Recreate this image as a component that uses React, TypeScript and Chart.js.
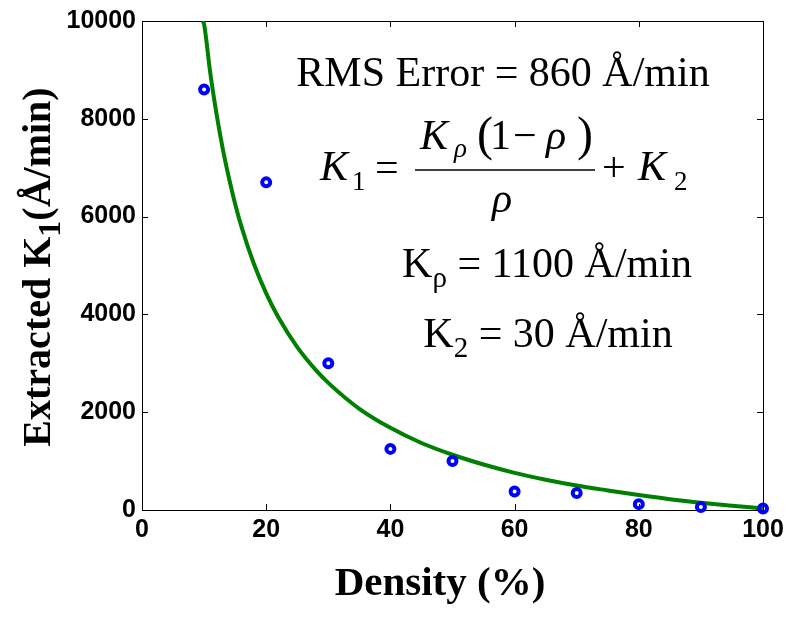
import React, { useEffect, useRef } from "react";
import { Chart, registerables } from "chart.js";
Chart.register(...registerables);

// Measured points
const densityPct = [10, 20, 30, 40, 50, 60, 70, 80, 90, 100];
const extractedK1 = [8600, 6700, 3000, 1250, 1000, 380, 350, 120, 60, 30];

// Fitted curve
const fitDensity = [9.8, 10, 11, 12, 13, 14, 15, 16, 18, 20, 22, 25, 28, 30, 35, 40, 45, 50, 55, 60, 65, 70, 75, 80, 85, 90, 95, 100];
const fitK1 = [10000, 9930, 8930, 8100, 7390, 6790, 6260, 5800, 5040, 4430, 3930, 3330, 2860, 2600, 2070, 1680, 1370, 1130, 930, 760, 620, 500, 400, 305, 220, 150, 88, 30];

// Tick labels
const xTicks = [0, 20, 40, 60, 80, 100];
const yTicks = [0, 2000, 4000, 6000, 8000, 10000];

const SERIF = "'Liberation Serif', 'Times New Roman', serif";
const SANS = "'Liberation Sans', Arial, sans-serif";

type Run = { t: string; font: string; dy?: number };

function drawRuns(ctx: CanvasRenderingContext2D, runs: Run[], cx: number, baseline: number) {
  let total = 0;
  for (const r of runs) {
    ctx.font = r.font;
    total += ctx.measureText(r.t).width;
  }
  let x = cx - total / 2;
  for (const r of runs) {
    ctx.font = r.font;
    ctx.fillText(r.t, x, baseline + (r.dy || 0));
    x += ctx.measureText(r.t).width;
  }
}

const framePlugin = {
  id: "frame",
  beforeDatasetsDraw(chart: any) {
    const { ctx, chartArea: a, scales } = chart;
    ctx.save();
    ctx.strokeStyle = "#000";
    ctx.lineWidth = 1;
    ctx.strokeRect(a.left + 0.5, a.top + 0.5, a.right - a.left, a.bottom - a.top);
    const tl = 6;
    ctx.beginPath();
    for (const v of xTicks) {
      const px = Math.round(scales.x.getPixelForValue(v)) + 0.5;
      ctx.moveTo(px, a.bottom);
      ctx.lineTo(px, a.bottom - tl);
      ctx.moveTo(px, a.top);
      ctx.lineTo(px, a.top + tl);
    }
    for (const v of yTicks) {
      const py = Math.round(scales.y.getPixelForValue(v)) + 0.5;
      ctx.moveTo(a.left, py);
      ctx.lineTo(a.left + tl, py);
      ctx.moveTo(a.right, py);
      ctx.lineTo(a.right - tl, py);
    }
    ctx.stroke();
    ctx.restore();
  },
  afterDraw(chart: any) {
    const ctx: CanvasRenderingContext2D = chart.ctx;
    ctx.save();
    ctx.fillStyle = "#000";
    ctx.textBaseline = "alphabetic";
    ctx.textAlign = "left";

    // Axis titles
    drawRuns(ctx, [{ t: "Density (%)", font: `bold 41px ${SERIF}` }], 440, 595);
    ctx.save();
    ctx.translate(50, 267);
    ctx.rotate(-Math.PI / 2);
    drawRuns(
      ctx,
      [
        { t: "Extracted K", font: `bold 40px ${SERIF}` },
        { t: "1", font: `bold 32px ${SERIF}`, dy: 10 },
        { t: "(Å/min)", font: `bold 40px ${SERIF}` },
      ],
      0,
      0
    );
    ctx.restore();

    // Annotations
    const reg = `42px ${SERIF}`;
    const ital = `italic 42px ${SERIF}`;
    const sub = `27px ${SERIF}`;
    drawRuns(ctx, [{ t: "RMS Error = 860 Å/min", font: reg }], 503, 86);
    drawRuns(
      ctx,
      [
        { t: "K", font: reg },
        { t: "ρ", font: `29px ${SERIF}`, dy: 10 },
        { t: " = 1100 Å/min", font: reg },
      ],
      547,
      277
    );
    drawRuns(
      ctx,
      [
        { t: "K", font: reg },
        { t: "2", font: `29px ${SERIF}`, dy: 10 },
        { t: " = 30 Å/min", font: reg },
      ],
      548,
      347
    );

    // Equation K1 = Kρ(1 − ρ)/ρ + K2
    const put = (t: string, font: string, x: number, y: number) => {
      ctx.font = font;
      ctx.fillText(t, x, y);
    };
    put("K", ital, 320, 180);
    put("1", sub, 352, 190);
    put("=", reg, 375, 181);
    ctx.beginPath();
    ctx.lineWidth = 1.5;
    ctx.strokeStyle = "#000";
    ctx.moveTo(415, 170);
    ctx.lineTo(595, 170);
    ctx.stroke();
    put("K", ital, 420, 149);
    put("ρ", `italic 27px ${SERIF}`, 454, 157);
    put("(", `48px ${SERIF}`, 477, 150);
    put("1", reg, 490, 149);
    put("−", reg, 513, 149);
    put("ρ", ital, 546, 149);
    put(")", `48px ${SERIF}`, 577, 150);
    put("ρ", ital, 492, 212);
    put("+", reg, 602, 181);
    put("K", ital, 638, 180);
    put("2", sub, 674, 190);

    ctx.restore();
  },
};

export default function App() {
  const ref = useRef<HTMLCanvasElement | null>(null);
  useEffect(() => {
    if (!ref.current) return;
    const tickFont = { family: SANS, weight: "bold" as const, size: 25 };
    const chart = new Chart(ref.current, {
      type: "scatter",
      data: {
        datasets: [
          {
            type: "line",
            label: "Fit",
            data: fitDensity.map((x, i) => ({ x, y: fitK1[i] })),
            borderColor: "#008000",
            borderWidth: 4,
            pointRadius: 0,
            fill: false,
            cubicInterpolationMode: "monotone",
            order: 2,
          } as any,
          {
            type: "scatter",
            label: "Extracted",
            data: densityPct.map((x, i) => ({ x, y: extractedK1[i] })),
            borderColor: "#0000ff",
            backgroundColor: "rgba(0,0,0,0)",
            pointBorderColor: "#0000ff",
            pointBackgroundColor: "rgba(0,0,0,0)",
            pointRadius: 4,
            pointBorderWidth: 4,
            borderWidth: 4,
            pointStyle: "circle",
            order: 1,
            clip: false,
          } as any,
        ],
      },
      options: {
        responsive: false,
        animation: false,
        events: [],
        layout: { padding: { left: 0, top: 19, right: 29, bottom: 0 } },
        plugins: { legend: { display: false }, tooltip: { enabled: false } },
        scales: {
          x: {
            type: "linear",
            min: 0,
            max: 100,
            afterBuildTicks: (s: any) => {
              s.ticks = xTicks.map((v) => ({ value: v }));
            },
            afterFit: (s: any) => {
              s.height = 107;
            },
            ticks: {
              font: tickFont,
              color: "#000",
              padding: 5,
              maxRotation: 0,
              autoSkip: false,
              callback: (v: any) => String(v),
            },
            grid: { display: false, drawTicks: false },
            border: { display: false },
          },
          y: {
            type: "linear",
            min: 0,
            max: 10000,
            afterBuildTicks: (s: any) => {
              s.ticks = yTicks.map((v) => ({ value: v }));
            },
            afterFit: (s: any) => {
              s.width = 142;
            },
            ticks: {
              font: tickFont,
              color: "#000",
              padding: 6,
              autoSkip: false,
              callback: (v: any) => String(v),
            },
            grid: { display: false, drawTicks: false },
            border: { display: false },
          },
        },
      } as any,
      plugins: [framePlugin],
    });
    return () => chart.destroy();
  }, []);
  return (
    <canvas
      ref={ref}
      width={792}
      height={617}
      style={{ position: "fixed", left: 0, top: 0, width: 792, height: 617, display: "block", background: "#fff" }}
    />
  );
}
